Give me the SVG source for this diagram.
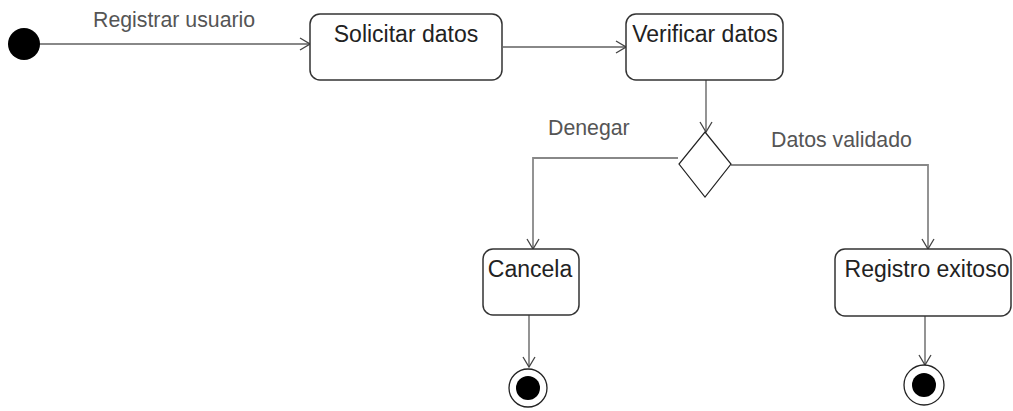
<svg xmlns="http://www.w3.org/2000/svg" width="1013" height="411" viewBox="0 0 1013 411">
  <style>
    .box { fill: #fff; stroke: #333; stroke-width: 1.5; }
    .ntext { font-family: "Liberation Sans", Arial, sans-serif; font-size: 23px; fill: #222; text-anchor: middle; }
    .label { font-family: "Liberation Sans", Arial, sans-serif; font-size: 21.3px; fill: #555; }
    .edge { fill: none; stroke: #888; stroke-width: 1.8; marker-end: url(#open); }
  </style>
  <defs>
    <marker id="open" viewBox="0 0 12 14" refX="11" refY="7" markerWidth="12" markerHeight="14" markerUnits="userSpaceOnUse" orient="auto">
      <path d="M1,1 L11,7 L1,13" fill="none" stroke="#444" stroke-width="1.3"/>
    </marker>
  </defs>

  <!-- connectors -->
  <g id="connectors">
    <path class="edge" d="M40,44 L310,44"/>
    <path class="edge" d="M503,47 L626,47"/>
    <path class="edge" d="M706,80 L706,132"/>
    <path class="edge" d="M678,158 L533,158 L533,249"/>
    <path class="edge" d="M731,165 L928,165 L928,249"/>
    <path class="edge" d="M529,315 L529,367"/>
    <path class="edge" d="M925,316 L925,365"/>
    <text class="label" x="93" y="27">Registrar usuario</text>
    <text class="label" x="548" y="135">Denegar</text>
    <text class="label" x="771" y="147">Datos validado</text>
  </g>

  <!-- initial state -->
  <g id="start">
    <circle cx="24" cy="44" r="16" fill="#000"/>
  </g>

  <g id="solicitar">
    <rect class="box" x="310" y="14" width="192" height="66" rx="10"/>
    <text class="ntext" x="406" y="42">Solicitar datos</text>
  </g>

  <g id="verificar">
    <rect class="box" x="626" y="14" width="157" height="66" rx="10"/>
    <text class="ntext" x="705" y="42">Verificar datos</text>
  </g>

  <g id="decision">
    <polygon points="705,132 731,164 705,197 679,164" fill="#fff" stroke="#222" stroke-width="1.2"/>
  </g>

  <g id="cancela">
    <rect class="box" x="483" y="249" width="96" height="66" rx="10"/>
    <text class="ntext" x="530" y="277">Cancela</text>
  </g>

  <g id="registro">
    <rect class="box" x="835" y="249" width="176" height="67" rx="10"/>
    <text class="ntext" x="927" y="277">Registro exitoso</text>
  </g>

  <g id="end1">
    <circle cx="528" cy="388" r="19" fill="#fff" stroke="#222" stroke-width="1.3"/>
    <circle cx="528" cy="388" r="12" fill="#000"/>
  </g>

  <g id="end2">
    <circle cx="924" cy="385" r="20" fill="#fff" stroke="#222" stroke-width="1.3"/>
    <circle cx="924" cy="385" r="12" fill="#000"/>
  </g>
</svg>
